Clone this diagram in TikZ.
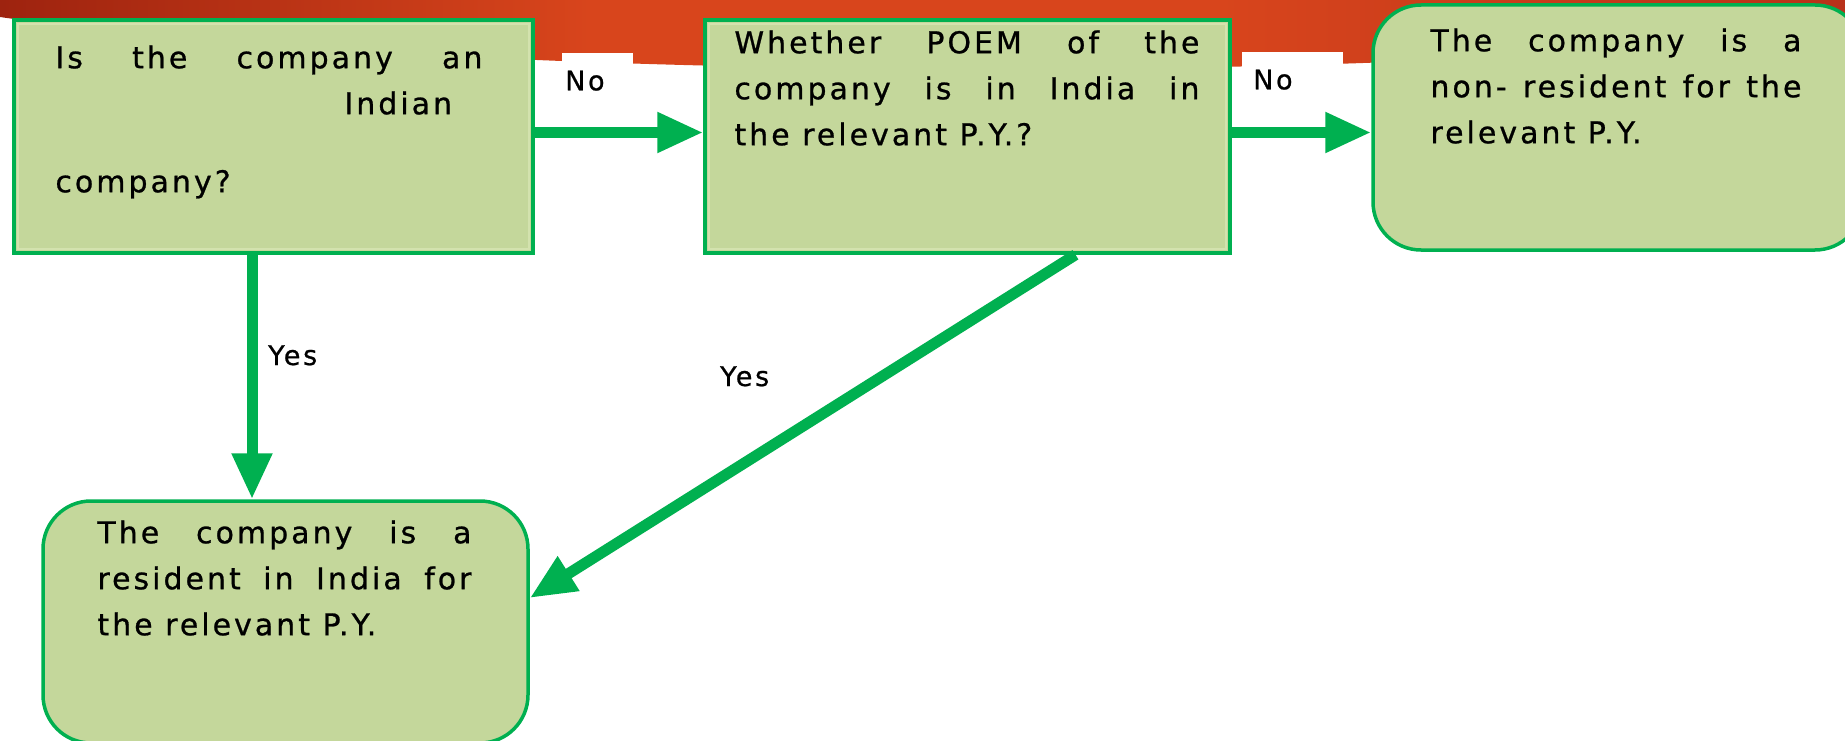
\documentclass[tikz,border=0pt]{standalone}
\usepackage{fontspec}
\setsansfont{DejaVu Sans}[LetterSpace=10,FakeBold=0.8]
\usetikzlibrary{arrows.meta}

\definecolor{boxfill}{HTML}{C4D79B}
\definecolor{boxline}{HTML}{00B050}
\definecolor{boxrim}{HTML}{D3E2AE}
\definecolor{banddark}{HTML}{9E230F}
\definecolor{bandmid}{HTML}{D8451C}
\definecolor{bandright}{HTML}{B8311A}
\pgfdeclarehorizontalshading{redband}{100bp}{color(0bp)=(banddark); color(25bp)=(banddark);
  color(41bp)=(bandmid); color(58bp)=(bandmid); color(75bp)=(bandright); color(100bp)=(bandright)}

\tikzset{
  sqbox/.style={draw=boxline, fill=boxfill, line width=3.5pt, inner sep=0pt},
  rndbox/.style={sqbox, rounded corners=48pt},
  rim/.style={draw=boxrim, line width=2pt},
  boxtext/.style={anchor=north west, inner sep=0pt, align=justify,
    font=\sffamily\fontsize{30}{46}\selectfont},
  lbl/.style={inner sep=0pt, font=\sffamily\fontsize{27}{30}\selectfont},
  flow/.style={draw=boxline, line width=11pt, -{Triangle[length=46pt,width=38pt]}},
}

\begin{document}
\begin{tikzpicture}[x=1pt,y=-1pt]
\hyphenpenalty=10000
\useasboundingbox (0,0) rectangle (1845,741);
\clip (0,0) rectangle (1845,741);
\fill[white] (0,0) rectangle (1845,741);

% red band along the top
\shade[shading=redband]
  (0,0) -- (1845,0) -- (1845,30) .. controls (1300,92) and (400,75) .. (0,17) -- cycle;

% boxes
\node[sqbox, minimum width=519, minimum height=233] (q1) at (273.5,136.5) {};
\node[sqbox, minimum width=525, minimum height=233] (q2) at (967.5,136.5) {};
\node[rndbox, minimum width=490, minimum height=245] (r3) at (1618,127.5) {};
\node[rndbox, minimum width=485, minimum height=242] (r4) at (285.5,622) {};
\draw[rim] ([shift={(6,6)}]q1.north west) rectangle ([shift={(-6,-6)}]q1.south east);
\draw[rim] ([shift={(6,6)}]q2.north west) rectangle ([shift={(-6,-6)}]q2.south east);

\node[boxtext, text width=427] (t1) at ([shift={(43,27)}]q1.north west)
  {Is the company an\linebreak\hspace*{289pt}Indian\\[32pt]company?};
\node[boxtext, text width=465] (t2) at ([shift={(31,12)}]q2.north west)
  {Whether POEM of the\linebreak company is in India in\linebreak the relevant P.Y.?};
\node[boxtext, text width=371] (t3) at ([shift={(59,25)}]r3.north west)
  {The company is a\linebreak non- resident for the\linebreak relevant P.Y.};
\node[boxtext, text width=374] (t4) at ([shift={(56,21)}]r4.north west)
  {The company is a\linebreak resident in India for\linebreak the relevant P.Y.};

% connectors
\draw[flow] ([yshift=4pt]q1.east) -- ([yshift=4pt]q2.west);
\draw[flow] ([yshift=4pt]q2.east) -- ([yshift=4pt]q2.east -| r3.west);
\draw[flow] ([xshift=-21.5pt]q1.south) -- ([xshift=-21.5pt]q1.south |- r4.north);
\draw[flow] ([xshift=108pt]q2.south) -- ([yshift=24pt]r4.east);

% labels
\node[lbl, fill=white, anchor=north west, text width=65, inner xsep=3pt,
  minimum height=55, align=left] (no1) at (562,53) {No};
\node[lbl, fill=white, anchor=north west, text width=79, inner xsep=11pt,
  minimum height=55, align=left] (no2) at (1242,52) {No};
\node[lbl, anchor=base west] (yes1) at (268,365) {Yes};
\node[lbl, anchor=base west] (yes2) at (720,386) {Yes};
\end{tikzpicture}
\end{document}
